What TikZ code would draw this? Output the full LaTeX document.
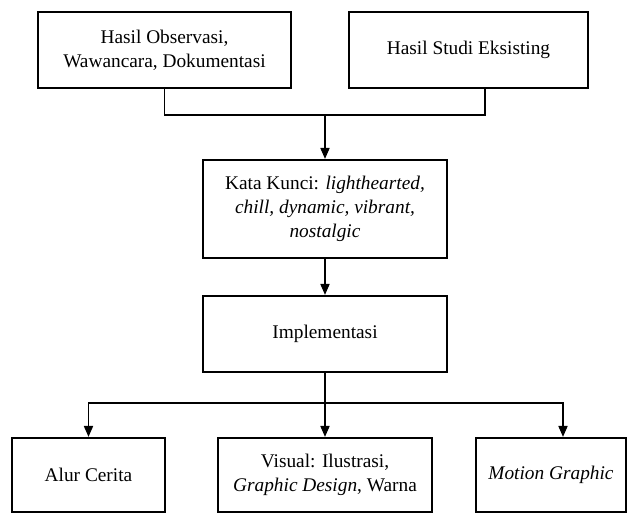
\documentclass[tikz,border=0pt]{standalone}
\usepackage{fontspec}
\setmainfont{Liberation Serif}
\usetikzlibrary{arrows.meta}

\begin{document}
\begin{tikzpicture}[x=0.6pt, y=-0.6pt,
    box/.style={draw, line width=1.4pt, align=center, inner sep=2pt,
        font=\fontsize{11.6}{14.4}\selectfont},
    link/.style={line width=0.7pt},
    arr/.style={link, -{Triangle[width=5.5pt,length=6.5pt]}}]
    \useasboundingbox (0,0) rectangle (628,518);

    % Sources
    \node[box, minimum width=151.8pt, minimum height=45.6pt] (obs) at (164.5,50)
        {Hasil Observasi,\\Wawancara, Dokumentasi};
    \node[box, minimum width=143.4pt, minimum height=45.6pt] (studi) at (468.5,50)
        {Hasil Studi Eksisting};

    % Keywords and implementation
    \node[box, minimum width=146.4pt, minimum height=58.8pt] (kunci) at (325,209)
        {Kata Kunci: \textit{lighthearted,}\\\textit{chill, dynamic, vibrant,}\\\textit{nostalgic}};
    \node[box, minimum width=146.4pt, minimum height=45.6pt] (impl) at (325,334)
        {Implementasi};

    % Outputs
    \node[box, minimum width=91.8pt, minimum height=44.4pt] (alur) at (88.5,475)
        {Alur Cerita};
    \node[box, minimum width=128.4pt, minimum height=44.4pt] (visual) at (325,475)
        {Visual: Ilustrasi,\\\textit{Graphic Design}, Warna};
    \node[box, minimum width=90pt, minimum height=44.4pt] (motion) at (551,475)
        {\textit{Motion Graphic}};

    % Connectors
    \coordinate (merge) at (325,115);
    \coordinate (split) at (325,403);
    \draw[link] (obs.south) |- (merge) -| ([xshift=9.9pt]studi.south);
    \draw[arr] (merge) -- (kunci.north);
    \draw[arr] (kunci.south) -- (impl.north);
    \draw[link] (impl.south) -- (split);
    \draw[arr] (split) -| (alur.north);
    \draw[arr] (split) -- (visual.north);
    \draw[arr] (split) -| ([xshift=7.2pt]motion.north);
\end{tikzpicture}
\end{document}
